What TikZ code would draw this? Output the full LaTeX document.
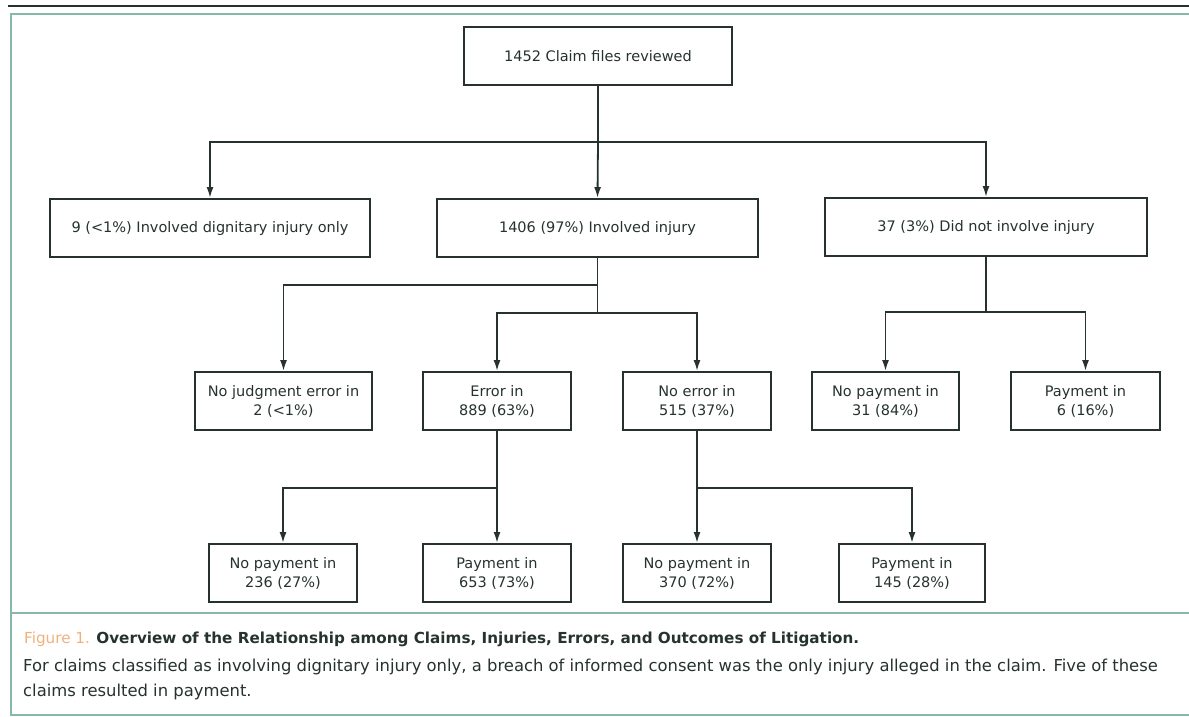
\documentclass[tikz,border=0pt]{standalone}
\usepackage{fontspec}
\setmainfont{DejaVu Sans}
\usetikzlibrary{arrows.meta}
\definecolor{ink}{HTML}{263230}
\definecolor{teal1}{HTML}{86B9AA}
\definecolor{figorange}{HTML}{F0B27C}
\begin{document}
\begin{tikzpicture}[x=1pt,y=-1pt,
  box/.style={draw=ink,line width=1.9pt,minimum height=58pt,inner sep=0pt,text=ink,font=\fontsize{14.5}{19}\selectfont,align=center},
  conn/.style={draw=ink,line width=1.8pt},
  arr/.style={conn,-{Latex[length=11pt,width=7pt]}},
  captxt/.style={anchor=base west,inner sep=0pt,text=ink,font=\fontsize{16.4}{20}\selectfont}
]
\useasboundingbox (0,0) rectangle (1189,717);
% frame
\draw[ink,line width=2.6pt] (8,6) -- (1189,6);
\draw[teal1,line width=2pt] (1189,14) -- (11,14) -- (11,715) -- (1189,715);
\draw[teal1,line width=2.2pt] (11,613) -- (1189,613);

% nodes
\node[box,minimum width=268pt] (root) at (598,56) {1452 Claim files reviewed};
\node[box,minimum width=320pt] (A) at (210,228) {9 (<1\%) Involved dignitary injury only};
\node[box,minimum width=321pt] (B) at (597.5,228) {1406 (97\%) Involved injury};
\node[box,minimum width=322pt] (C) at (986,227) {37 (3\%) Did not involve injury};

\node[box,minimum width=177pt] (nj) at (283.5,401) {No judgment error in\\2 (<1\%)};
\node[box,minimum width=148pt] (err) at (497,401) {Error in\\889 (63\%)};
\node[box,minimum width=148pt] (noerr) at (697,401) {No error in\\515 (37\%)};
\node[box,minimum width=147pt] (np31) at (885.5,401) {No payment in\\31 (84\%)};
\node[box,minimum width=149pt] (p6) at (1085.5,401) {Payment in\\6 (16\%)};

\node[box,minimum width=148pt] (np236) at (283,573) {No payment in\\236 (27\%)};
\node[box,minimum width=148pt] (p653) at (497,573) {Payment in\\653 (73\%)};
\node[box,minimum width=148pt] (np370) at (697,573) {No payment in\\370 (72\%)};
\node[box,minimum width=146pt] (p145) at (912,573) {Payment in\\145 (28\%)};

% junctions
\coordinate (j1) at (598,142);
\coordinate (j2) at (597.5,285);
\coordinate (j3) at (597.5,313);
\coordinate (j4) at (986,312);
\coordinate (j5) at (497,488);
\coordinate (j6) at (697,488);

% connectors
\draw[conn] (root.south) -- (j1);
\draw[arr] (j1) -| (A.north);
\draw[arr] (j1) -- (B.north);
\draw[arr] (j1) -| (C.north);

\draw[conn] (B.south) -- (j3);
\draw[arr] (j2) -| (nj.north);
\draw[arr] (j3) -| (err.north);
\draw[arr] (j3) -| (noerr.north);

\draw[conn] (C.south) -- (j4);
\draw[arr] (j4) -| (np31.north);
\draw[arr] (j4) -| (p6.north);

\draw[conn] (err.south) -- (j5);
\draw[arr] (j5) -| (np236.north);
\draw[arr] (j5) -- (p653.north);

\draw[conn] (noerr.south) -- (j6);
\draw[arr] (j6) -- (np370.north);
\draw[arr] (j6) -| (p145.north);

% caption
\node[captxt,font=\fontsize{15.2}{20}\selectfont] (cap) at (24,643)
  {\textcolor{figorange}{Figure 1.} \textbf{Overview of the Relationship among Claims, Injuries, Errors, and Outcomes of Litigation.}};
\node[captxt] (body1) at (23,671)
  {For claims classified as involving dignitary injury only, a breach of informed consent was the only injury alleged in the claim. Five of these};
\node[captxt] (body2) at (23,696) {claims resulted in payment.};
\end{tikzpicture}
\end{document}
